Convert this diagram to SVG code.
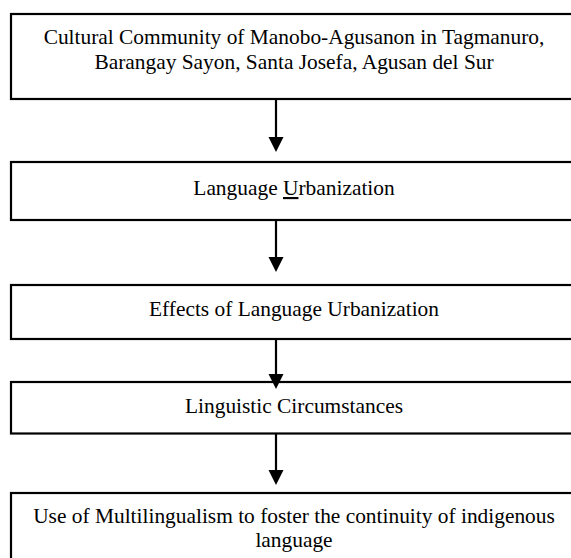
<svg xmlns="http://www.w3.org/2000/svg" width="571" height="558" viewBox="0 0 571 558">
<defs>
<style>
.box{fill:#fff;stroke:#000;stroke-width:2.2}
.t{font-family:"Liberation Serif","Times New Roman",serif;font-size:21.4px;fill:#000;text-anchor:middle}
.c{stroke:#000;stroke-width:2.2;fill:none}
.h{fill:#000}
</style>
</defs>
<g id="n1"><rect class="box" x="11" y="14" width="580" height="85"/>
<text class="t" x="294" y="44">Cultural Community of Manobo-Agusanon in Tagmanuro,</text>
<text class="t" x="294" y="69">Barangay Sayon, Santa Josefa, Agusan del Sur</text></g>
<g id="n2"><rect class="box" x="11" y="162" width="580" height="58"/>
<text class="t" x="294" y="195">Language <tspan text-decoration="underline">U</tspan>rbanization</text></g>
<g id="n3"><rect class="box" x="11" y="285" width="580" height="54"/>
<text class="t" x="294" y="315.5">Effects of Language Urbanization</text></g>
<g id="n4"><rect class="box" x="11" y="382" width="580" height="51.5"/>
<text class="t" x="294" y="412.5">Linguistic Circumstances</text></g>
<g id="n5"><rect class="box" x="11" y="493" width="580" height="80"/>
<text class="t" x="294" y="523">Use of Multilingualism to foster the continuity of indigenous</text>
<text class="t" x="294" y="547">language</text></g>
<g id="connectors">
<line class="c" x1="276" y1="99" x2="276" y2="138"/><polygon class="h" points="268.5,137 283.5,137 276,152"/>
<line class="c" x1="276" y1="220" x2="276" y2="258"/><polygon class="h" points="268.5,257 283.5,257 276,272"/>
<line class="c" x1="276" y1="339" x2="276" y2="375"/><polygon class="h" points="268.5,374 283.5,374 276,389"/>
<line class="c" x1="276" y1="433.5" x2="276" y2="471"/><polygon class="h" points="268.5,470 283.5,470 276,485"/>
</g>
</svg>
